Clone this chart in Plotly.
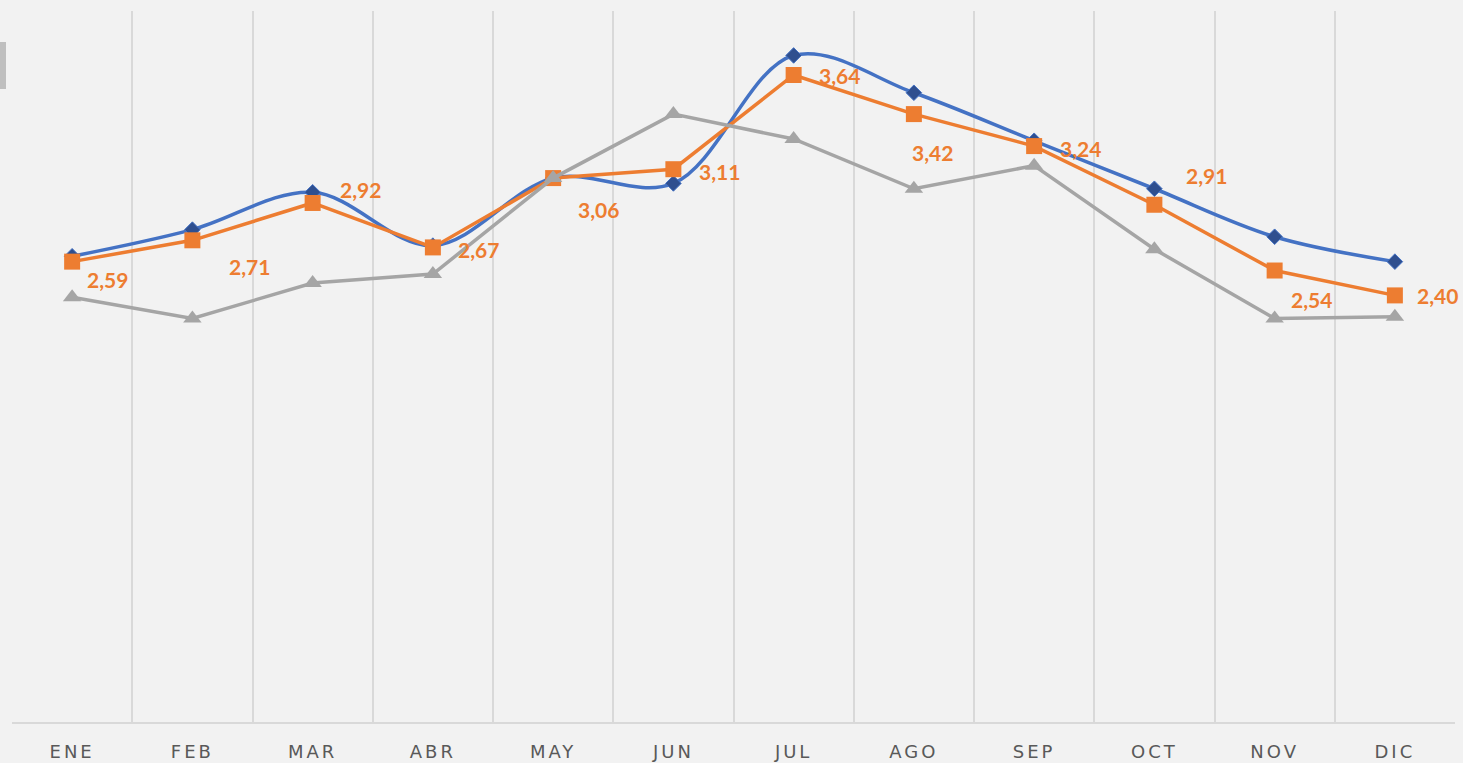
import plotly.graph_objects as go

months = ["ENE", "FEB", "MAR", "ABR", "MAY", "JUN", "JUL", "AGO", "SEP", "OCT", "NOV", "DIC"]
serie_azul = [2.62, 2.77, 2.98, 2.68, 3.06, 3.03, 3.75, 3.54, 3.27, 3.00, 2.73, 2.59]
serie_naranja = [2.59, 2.71, 2.92, 2.67, 3.06, 3.11, 3.64, 3.42, 3.24, 2.91, 2.54, 2.40]
serie_gris = [2.39, 2.27, 2.47, 2.52, 3.06, 3.42, 3.28, 3.00, 3.13, 2.66, 2.27, 2.28]

# label offsets in pixels (styling)
label_dx = [35, 57, 48, 46, 45, 46, 46, 19, 46, 52, 37, 43]
label_dy = [18, 26, -13, 2, 31, 2, 1, 38, 2, -29, 29, 0]

x = list(range(len(months)))

fig = go.Figure()
fig.add_trace(go.Scatter(
    x=x, y=serie_azul, mode="lines+markers",
    line=dict(color="#4472c4", width=3.5, shape="spline", smoothing=1.0),
    marker=dict(symbol="diamond", size=12, color="#2f4f8f",
                line=dict(color="#4472c4", width=1)),
    showlegend=False, hoverinfo="skip"))
fig.add_trace(go.Scatter(
    x=x, y=serie_naranja, mode="lines+markers",
    line=dict(color="#ed7d31", width=3.5),
    marker=dict(symbol="square", size=16, color="#ed7d31"),
    showlegend=False, hoverinfo="skip"))
fig.add_trace(go.Scatter(
    x=x, y=serie_gris, mode="lines+markers",
    line=dict(color="#a5a5a5", width=3.5),
    marker=dict(symbol="triangle-up", size=16, color="#a5a5a5"),
    showlegend=False, hoverinfo="skip"))

for i, v in enumerate(serie_naranja):
    fig.add_annotation(
        x=x[i], y=v, text=f"{v:.2f}".replace(".", ","), showarrow=False,
        xshift=label_dx[i], yshift=-label_dy[i],
        font=dict(family="Lato", size=21, color="#ed7d31", weight="bold"))

fig.add_shape(type="rect", xref="paper", yref="paper",
              x0=-12/1443, x1=-6/1443, y0=(722-89)/711, y1=(722-42)/711,
              fillcolor="#bfbfbf", line=dict(width=0))

fig.update_xaxes(
    range=[-0.5, 11.5], tickvals=x, ticktext=months, showgrid=False,
    showline=True, linecolor="#d9d9d9", linewidth=2, ticks="",
    tickfont=dict(family="DejaVu Sans", size=18, color="#595959"),
    ticklabelstandoff=12, zeroline=False, automargin=False,
    minor=dict(tickvals=[i - 0.5 for i in range(13)], showgrid=True,
               gridcolor="#d9d9d9", gridwidth=2, ticks=""))
fig.update_yaxes(range=[0, 4], showgrid=False, showticklabels=False,
                 zeroline=False, showline=False, automargin=False)

fig.update_layout(
    width=1463, height=763,
    margin=dict(l=12, r=8, t=11, b=41, autoexpand=False),
    paper_bgcolor="#f2f2f2", plot_bgcolor="#f2f2f2")

fig.write_html(
    "out.html",
    config={"displayModeBar": False},
    post_script=(
        "document.body.style.margin='0';"
        "document.body.style.background='#f2f2f2';"
        "document.querySelectorAll('.xtick text').forEach(function(t){t.style.letterSpacing='3px';});"
    ))
